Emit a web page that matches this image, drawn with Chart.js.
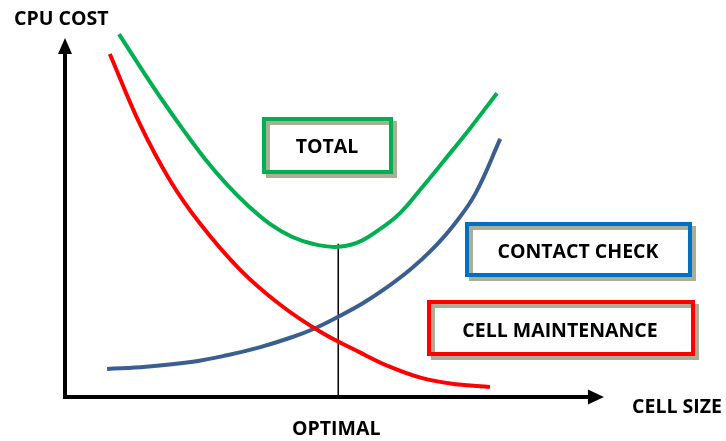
<!DOCTYPE html>
<html>
<head>
<meta charset="utf-8">
<script src="https://cdn.jsdelivr.net/npm/chart.js@4"></script>
<style>
  body { margin: 0; background: #fff; }
  #wrap { width: 726px; height: 441px; }
</style>
</head>
<body>
<div id="wrap"><canvas id="costchart"></canvas></div>
<script>
// cell maintenance cost (red curve)
var maintenanceX = [8.3, 13.9, 19.4, 25, 32.4, 39.8, 47.2, 54.6, 60, 66, 72, 78.7];
var maintenanceY = [95.3, 75.7, 60.3, 48.2, 35.4, 25.7, 18.2, 12.4, 8.5, 5.3, 3.6, 2.8];

// contact check cost (blue curve)
var contactX = [7.8, 15, 23.7, 30, 36, 42, 46, 50.6, 55, 59, 64, 68, 72, 76, 80.6];
var contactY = [7.8, 8.4, 9.8, 11.6, 13.8, 16.6, 18.9, 22.3, 25.9, 29.8, 35.5, 41, 47.8, 56.5, 71.7];

// total cost (green curve)
var totalX = [10, 14, 18, 22, 26, 30, 34, 38, 42, 46, 50, 54, 58, 62, 66, 70, 75, 80];
var totalY = [100.8, 91.5, 82.5, 74, 66, 59, 53, 48, 44.5, 42.5, 41.7, 42.8, 46.3, 51, 58, 65.3, 74.6, 84.4];

// optimal cell size, marked by a vertical line up to the total curve
var optimalX = [50.6, 50.6];
var optimalY = [0, 42.6];

var curveLabels = ['TOTAL', 'CONTACT CHECK', 'CELL MAINTENANCE'];
var axisLabels = { y: 'CPU COST', x: 'CELL SIZE', optimal: 'OPTIMAL' };

function toPoints(xs, ys) {
    return xs.map(function (x, i) { return { x: x, y: ys[i] }; });
}

var FONT = 'bold 19.5px "Open Sans"';

// axes with arrow heads
var axesPlugin = {
    id: 'arrowAxes',
    beforeDatasetsDraw: function (chart) {
        var c = chart.ctx, xs = chart.scales.x, ys = chart.scales.y;
        var x0 = xs.getPixelForValue(0), y0 = ys.getPixelForValue(0);
        var xEnd = xs.getPixelForValue(99.8), yEnd = ys.getPixelForValue(99.7);
        c.save();
        c.strokeStyle = '#000';
        c.fillStyle = '#000';
        c.lineWidth = 4;
        c.beginPath();
        c.moveTo(x0, yEnd + 14);
        c.lineTo(x0, y0);
        c.lineTo(xEnd - 14, y0);
        c.stroke();
        // y arrow
        c.beginPath();
        c.moveTo(x0, yEnd);
        c.lineTo(x0 - 7, yEnd + 16);
        c.lineTo(x0 + 7, yEnd + 16);
        c.closePath();
        c.fill();
        // x arrow
        c.beginPath();
        c.moveTo(xEnd, y0);
        c.lineTo(xEnd - 16, y0 - 7.5);
        c.lineTo(xEnd - 16, y0 + 7.5);
        c.closePath();
        c.fill();
        c.restore();
    }
};

// label boxes with a shadowed outline, plus axis titles
var boxes = [
    { x: 264, y: 119, w: 127, h: 53, color: '#00b050', tx: 327, ty: 153 },
    { x: 467, y: 224, w: 223, h: 51, color: '#0070c0', tx: 578, ty: 258 },
    { x: 429, y: 302, w: 264, h: 52, color: '#ff0000', tx: 560, ty: 337 }
];

var labelPlugin = {
    id: 'labels',
    afterDraw: function (chart) {
        var c = chart.ctx;
        c.save();
        c.font = FONT;
        c.textAlign = 'center';
        c.textBaseline = 'alphabetic';
        boxes.forEach(function (b, i) {
            c.lineWidth = 4;
            c.strokeStyle = '#a9ae96';
            c.strokeRect(b.x + 4, b.y + 4, b.w, b.h);
            c.strokeStyle = b.color;
            c.strokeRect(b.x, b.y, b.w, b.h);
            c.fillStyle = '#000';
            c.fillText(curveLabels[i], b.tx, b.ty);
        });
        c.fillStyle = '#000';
        c.textAlign = 'left';
        c.fillText(axisLabels.y, 14, 25);
        c.textAlign = 'center';
        c.fillText(axisLabels.x, 677, 413);
        c.fillText(axisLabels.optimal, chart.scales.x.getPixelForValue(optimalX[0]) - 2, 435);
        c.restore();
    }
};

var ctx = document.getElementById('costchart').getContext('2d');

var costchart = new Chart(ctx, {
    type: 'line',
    data: {
        datasets: [{
            label: curveLabels[2],
            data: toPoints(maintenanceX, maintenanceY),
            borderColor: '#ff0000',
            borderWidth: 4
        }, {
            label: curveLabels[1],
            data: toPoints(contactX, contactY),
            borderColor: '#3a5f8f',
            borderWidth: 4
        }, {
            label: curveLabels[0],
            data: toPoints(totalX, totalY),
            borderColor: '#00b050',
            borderWidth: 4
        }, {
            label: axisLabels.optimal,
            data: toPoints(optimalX, optimalY),
            borderColor: '#000',
            borderWidth: 1.5,
            tension: 0
        }]
    },
    options: {
        responsive: true,
        maintainAspectRatio: false,
        animation: false,
        layout: { padding: { left: 65, right: 121, top: 19, bottom: 44 } },
        datasets: {
            line: { fill: false, pointRadius: 0, tension: 0.4 }
        },
        scales: {
            x: { type: 'linear', min: 0, max: 100, display: false },
            y: { min: 0, max: 105, display: false }
        },
        plugins: {
            legend: { display: false },
            tooltip: { enabled: false }
        }
    },
    plugins: [axesPlugin, labelPlugin]
});
</script>
</body>
</html>
